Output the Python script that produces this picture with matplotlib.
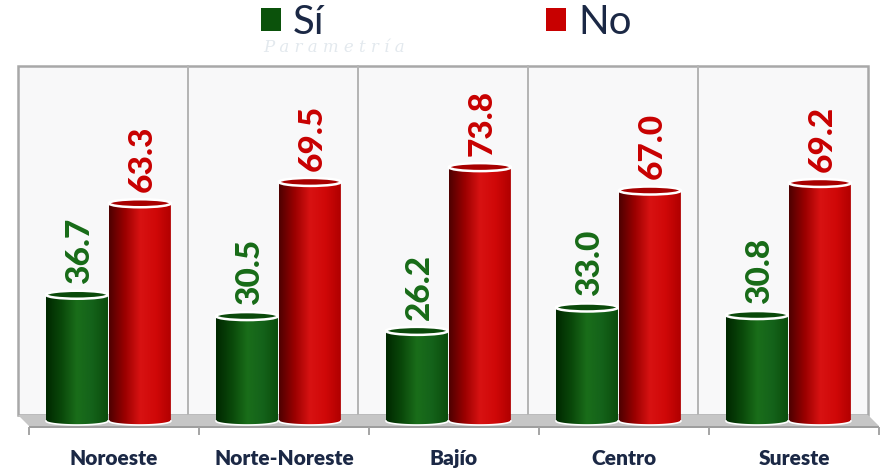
import numpy as np
import matplotlib
matplotlib.use("Agg")
import matplotlib.pyplot as plt
import matplotlib.colors as mc
from matplotlib.patches import Rectangle, Ellipse, Polygon, Patch

regions = ["Noroeste", "Norte-Noreste", "Bajío", "Centro", "Sureste"]
si_vals = [36.7, 30.5, 26.2, 33.0, 30.8]
no_vals = [63.3, 69.5, 73.8, 67.0, 69.2]

GREEN_TXT = "#176b17"
RED_TXT = "#c80000"
NAVY = "#1b2845"
FONT = ["Lato", "DejaVu Sans"]

green_cmap = mc.LinearSegmentedColormap.from_list(
    "g", ["#002800", "#0a480a", "#1a6e1a", "#14621a", "#0b4c0b"])
red_cmap = mc.LinearSegmentedColormap.from_list(
    "r", ["#4e0000", "#9a0000", "#d81212", "#d00808", "#b00000"])

# layout: 170 px per category, 3.44 px per percent, baseline at y=421 px
PX_CAT = 170.0
PX_VAL = 3.44
W, H = 880, 469
x_lo = -18 / PX_CAT
y_lo = -(H - 421) / PX_VAL

fig = plt.figure(figsize=(W / 100, H / 100), dpi=100)
ax = fig.add_axes([0, 0, 1, 1])
ax.set_xlim(x_lo, x_lo + W / PX_CAT)
ax.set_ylim(y_lo, y_lo + H / PX_VAL)
ax.axis("off")

n = len(regions)
wall_top = (421 - 66) / PX_VAL
floor_back = (421 - 415) / PX_VAL
floor_front = (421 - 426) / PX_VAL
dx = 11 / PX_CAT

# watermark
ax.text((334 - 18) / PX_CAT, (421 - 47) / PX_VAL,
        "P a r a m e t r í a", fontsize=12, style="italic", family="DejaVu Serif",
        color="#e3e9ee", ha="center", va="center", zorder=0)

# back wall
ax.add_patch(Rectangle((0, floor_back), n, wall_top - floor_back,
                       facecolor="#f8f8f9", edgecolor="#a8a8a8", lw=1.8, zorder=1))
for i in range(1, n):
    ax.plot([i, i], [floor_back, wall_top], color="#b4b4b4", lw=1.4, zorder=1)

# floor slab
ax.add_patch(Polygon([(0, floor_back), (n, floor_back), (n + dx, floor_front),
                      (dx, floor_front)], closed=True, facecolor="#c6c6c6",
                     edgecolor="none", zorder=2))
ax.add_patch(Rectangle((dx, floor_front - 0.7), n, 0.7, facecolor="#9e9e9e",
                       edgecolor="none", zorder=2))
for i in range(n + 1):
    ax.plot([i + dx, i + dx], [floor_front - 0.7, floor_front - 2.4],
            color="#a4a4a4", lw=1.4, zorder=2)

bar_w = 62 / PX_CAT
ell_h = 8 / PX_VAL


def cylinder(xc, h, cmap, top_color, z):
    x0, x1 = xc - bar_w / 2, xc + bar_w / 2
    t = np.linspace(np.pi, 2 * np.pi, 40)
    pts = [(xc + bar_w / 2 * np.cos(a), ell_h / 2 * np.sin(a)) for a in t]
    pts += [(x1, h), (x0, h)]
    body = Polygon(pts, closed=True, facecolor="none", edgecolor="none")
    ax.add_patch(body)
    grad = np.linspace(0, 1, 200).reshape(1, -1)
    im = ax.imshow(grad, cmap=cmap, aspect="auto", extent=[x0, x1, -ell_h, h + 1],
                   zorder=z, interpolation="bilinear")
    im.set_clip_path(body)
    bx = xc + bar_w / 2 * np.cos(t)
    by = ell_h / 2 * np.sin(t)
    ax.plot(bx, by, color="white", lw=1.2, zorder=z + 0.1)
    ax.add_patch(Ellipse((xc, h), bar_w, ell_h, facecolor=top_color,
                         edgecolor="white", lw=1.8, zorder=z + 0.2))


for i in range(n):
    gx = i + 0.347
    rx = i + 0.717
    cylinder(gx, si_vals[i], green_cmap, "#0b4a0b", 3)
    cylinder(rx, no_vals[i], red_cmap, "#a80000", 4)
    ax.annotate(f"{si_vals[i]:.1f}", (gx + 0.015, si_vals[i]), xytext=(0, 8),
                textcoords="offset points", rotation=90, ha="center", va="bottom",
                fontsize=24, fontweight="black", color=GREEN_TXT, family=FONT, zorder=6)
    ax.annotate(f"{no_vals[i]:.1f}", (rx + 0.015, no_vals[i]), xytext=(0, 8),
                textcoords="offset points", rotation=90, ha="center", va="bottom",
                fontsize=24, fontweight="black", color=RED_TXT, family=FONT, zorder=6)
    ax.text(i + 0.5 + dx, (421 - 458) / PX_VAL, regions[i], ha="center", va="center",
            fontsize=15, fontweight="heavy", color=NAVY, family=FONT)

handles = [Patch(facecolor="#0b520b", edgecolor="none", label="Sí"),
           Patch(facecolor="#c80000", edgecolor="none", label="No")]
leg = fig.legend(handles=handles, loc="center", bbox_to_anchor=(0.507, 0.952),
                 ncol=2, frameon=False, handlelength=0.5,
                 handleheight=0.5, handletextpad=0.3, columnspacing=5.5,
                 prop={"family": FONT, "size": 29})
for t in leg.get_texts():
    t.set_color(NAVY)

fig.savefig("out.png", dpi=100)
